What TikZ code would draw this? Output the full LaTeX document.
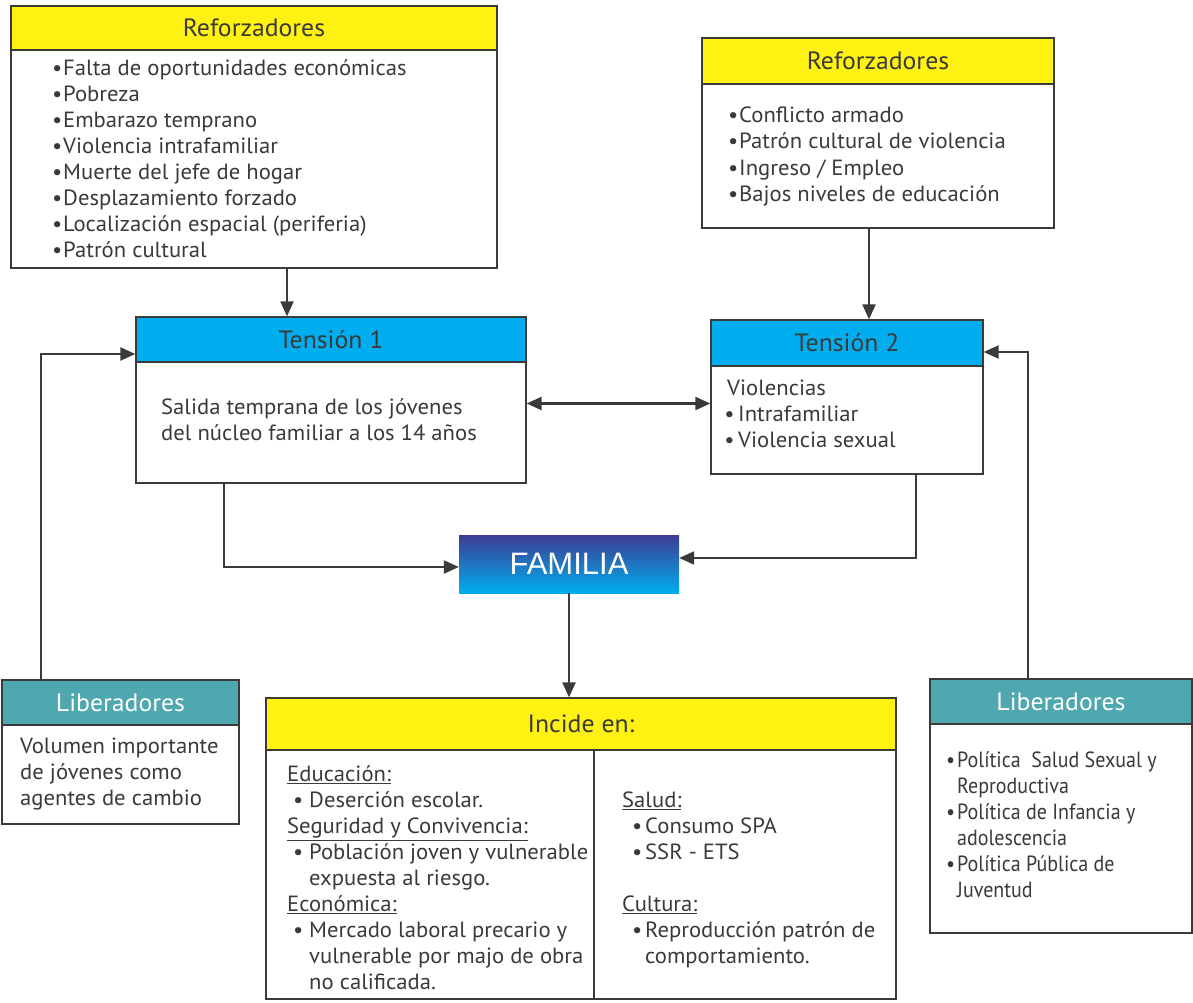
\documentclass[tikz,border=0pt]{standalone}
\usepackage{fontspec}
\setmainfont[FakeStretch=1.03]{PT Sans}
\newfontfamily\arialfont{Liberation Sans}
\newfontfamily\narrowB[FakeStretch=0.91]{PT Sans}
\usetikzlibrary{positioning,arrows.meta}
\definecolor{refyellow}{HTML}{FFF212}
\definecolor{tensblue}{HTML}{00AEEF}
\definecolor{libteal}{HTML}{4FA8AF}
\definecolor{famindigo}{HTML}{3E3C92}
\definecolor{inkgray}{HTML}{3A3A3A}
\newcommand{\itm}{\makebox[11pt][l]{\textbullet}}
\newcommand{\cont}{\hspace*{11pt}}

\begin{document}
\begin{tikzpicture}[
    x=1pt, y=-1pt,
    hdr/.style={draw=inkgray, line width=1.3pt, inner sep=0pt, text=inkgray, font=\fontsize{25}{28}\selectfont},
    body/.style={draw=inkgray, line width=1.3pt, inner sep=0pt, fill=white},
    txt/.style={anchor=west, align=left, inner sep=0pt, text=inkgray, font=\fontsize{22}{26}\selectfont},
    arr/.style={-{Triangle[length=15pt,width=13pt]}, line width=2.2pt, draw=inkgray},
]
\useasboundingbox (0,0) rectangle (1193,1003);

% === Reforzadores (left) ===
\node[hdr, fill=refyellow, minimum width=486pt, minimum height=44pt] (r1h) at (254,28) {Reforzadores};
\node[body, minimum width=486pt, minimum height=218pt] (r1b) at (254,159) {};
\node[txt] (r1t) at (52,159) {\itm Falta de oportunidades económicas\\ \itm Pobreza\\ \itm Embarazo temprano\\ \itm Violencia intrafamiliar\\ \itm Muerte del jefe de hogar\\ \itm Desplazamiento forzado\\ \itm Localización espacial (periferia)\\ \itm Patrón cultural};

% === Reforzadores (right) ===
\node[hdr, fill=refyellow, minimum width=352pt, minimum height=46pt] (r2h) at (878,61) {Reforzadores};
\node[body, minimum width=352pt, minimum height=144pt] (r2b) at (878,156) {};
\node[txt, font=\fontsize{22}{26.5}\selectfont] (r2t) at (728,156.5) {\itm Conflicto armado\\ \itm Patrón cultural de violencia\\ \itm Ingreso / Empleo\\ \itm Bajos niveles de educación};

% === Tensiones ===
\node[hdr, fill=tensblue, minimum width=390pt, minimum height=45pt] (t1h) at (331,339.5) {Tensión 1};
\node[body, minimum width=390pt, minimum height=121pt] (t1b) at (331,422.5) {};
\node[txt] (t1t) at (161,420) {Salida temprana de los jóvenes\\ del núcleo familiar a los 14 años};

\node[hdr, fill=tensblue, minimum width=272pt, minimum height=46pt] (t2h) at (847,343) {Tensión 2};
\node[body, minimum width=272pt, minimum height=108pt] (t2b) at (847,420) {};
\node[txt] (t2t) at (727,414) {Violencias\\ \makebox[11pt][r]{\textbullet\,}Intrafamiliar\\ \makebox[11pt][r]{\textbullet\,}Violencia sexual};

% === Familia ===
\node[draw=none, top color=famindigo, bottom color=tensblue, minimum width=220pt, minimum height=58pt,
      text=white, font=\arialfont\fontsize{31}{36}\selectfont] (fam) at (569,564) {FAMILIA};

% === Liberadores ===
\node[hdr, fill=libteal, text=white, minimum width=237pt, minimum height=45pt] (l1h) at (120.5,702.5) {Liberadores};
\node[body, minimum width=237pt, minimum height=99pt] (l1b) at (120.5,774.5) {};
\node[txt] (l1t) at (20,774) {Volumen importante\\ de jóvenes como\\ agentes de cambio};

\node[hdr, fill=libteal, text=white, minimum width=262pt, minimum height=45pt] (l2h) at (1061,701.5) {Liberadores};
\node[body, minimum width=262pt, minimum height=209pt] (l2b) at (1061,828.5) {};
\node[txt, font=\narrowB\fontsize{22}{26}\selectfont] (l2t) at (946,825) {\itm Política\ \ Salud Sexual y\\ \cont Reproductiva\\ \itm Política de Infancia y\\ \cont adolescencia\\ \itm Política Pública de\\ \cont Juventud};

% === Incide en ===
\node[hdr, fill=refyellow, minimum width=630pt, minimum height=52pt] (ih) at (581,724) {Incide en:};
\node[body, minimum width=630pt, minimum height=249pt] (ib) at (581,874.5) {};
\draw[draw=inkgray, line width=1.3pt] ([xshift=13pt]ib.north) -- ([xshift=13pt]ib.south);
\node[txt] (it1) at (287,878) {\underline{Educación:}\\
  \hspace*{6pt}\makebox[16pt][l]{\textbullet}Deserción escolar.\\
  \underline{Seguridad y Convivencia:}\\
  \hspace*{6pt}\makebox[16pt][l]{\textbullet}Población joven y vulnerable\\
  \hspace*{22pt}expuesta al riesgo.\\
  \underline{Económica:}\\
  \hspace*{6pt}\makebox[16pt][l]{\textbullet}Mercado laboral precario y\\
  \hspace*{22pt}vulnerable por majo de obra\\
  \hspace*{22pt}no calificada.};
\node[txt] (it2) at (622,880) {\underline{Salud:}\\
  \hspace*{10pt}\makebox[13pt][l]{\textbullet}Consumo SPA\\
  \hspace*{10pt}\makebox[13pt][l]{\textbullet}SSR - ETS\\[26pt]
  \underline{Cultura:}\\
  \hspace*{10pt}\makebox[13pt][l]{\textbullet}Reproducción patrón de\\
  \hspace*{23pt}comportamiento.};

% Connectors
\draw[arr] ([xshift=33pt]r1b.south) -- ([xshift=33pt]r1b.south |- t1h.north);
\draw[arr] ([xshift=-9pt]r2b.south) -- ([xshift=-9pt]r2b.south |- t2h.north);
\draw[arr, {Triangle[length=15pt,width=13pt]}-{Triangle[length=15pt,width=13pt]}] ([yshift=19pt]t1b.east) -- ([yshift=19pt]t1b.east -| t2b.west);
\draw[arr] ([xshift=-107pt]t1b.south) |- ([yshift=-3pt]fam.west);
\draw[arr] ([xshift=69pt]t2b.south) |- ([yshift=6pt]fam.east);
\draw[arr] (fam.south) -- (fam.south |- ih.north);
\draw[arr] ([xshift=-79.5pt]l1h.north) |- ([yshift=-14.5pt]t1h.west);
\draw[arr] ([xshift=-33pt]l2h.north) |- ([yshift=-9pt]t2h.east);

\end{tikzpicture}
\end{document}
